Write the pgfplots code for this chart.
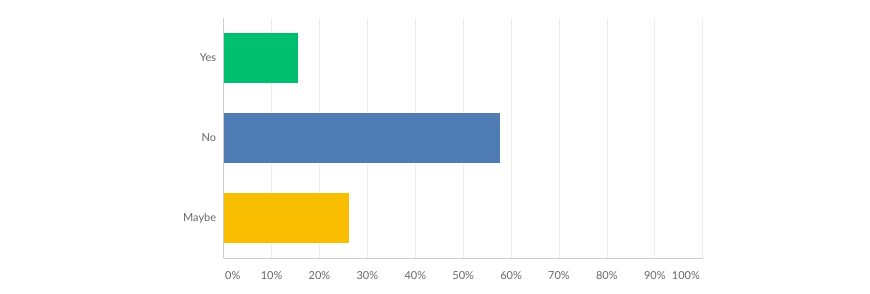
\documentclass[border=0pt]{standalone}
\usepackage{fontspec}
\setmainfont{Lato}
\usepackage{pgfplots}
\pgfplotsset{compat=1.18}
\definecolor{cyes}{HTML}{00BF6F}
\definecolor{cno}{HTML}{507CB6}
\definecolor{cmaybe}{HTML}{F9BE00}
\definecolor{txt}{HTML}{666666}
\definecolor{gridc}{HTML}{EDEDED}
\definecolor{axc}{HTML}{CCCCCC}
\begin{document}
\begin{tikzpicture}[x=1pt,y=1pt]
\useasboundingbox (0,0) rectangle (870,294);
\begin{axis}[
  at={(223.7pt,36pt)}, anchor=south west,
  scale only axis, width=479pt, height=240pt,
  xbar, bar width=50pt, bar shift=0pt,
  xmin=0, xmax=100, ymin=-0.5, ymax=2.5,
  ytick={0,1,2}, yticklabels={Maybe,No,Yes},
  xtick={10,20,...,100},
  xticklabels={10\%,20\%,30\%,40\%,50\%,60\%,70\%,80\%,90\%,{}},
  extra x ticks={1.9,96.5},
  extra x tick labels={0\%,100\%},
  extra x tick style={grid=none, major tick length=0pt},
  xmajorgrids, grid style={gridc, line width=0.8pt},
  major tick length=0pt,
  axis x line*=bottom, axis y line*=left,
  axis line style={axc, line width=0.8pt, -},
  every axis plot/.append style={draw=none},
  tick label style={font=\fontsize{11}{13}\selectfont, text=txt},
  xticklabel style={yshift=-10pt},
  yticklabel style={xshift=-4pt},
  /pgf/number format/assume math mode=true,
]
\addplot[fill=cmaybe] coordinates {(26.2,0)};
\addplot[fill=cno] coordinates {(57.7,1)};
\addplot[fill=cyes] coordinates {(15.5,2)};
\end{axis}
\end{tikzpicture}
\end{document}
